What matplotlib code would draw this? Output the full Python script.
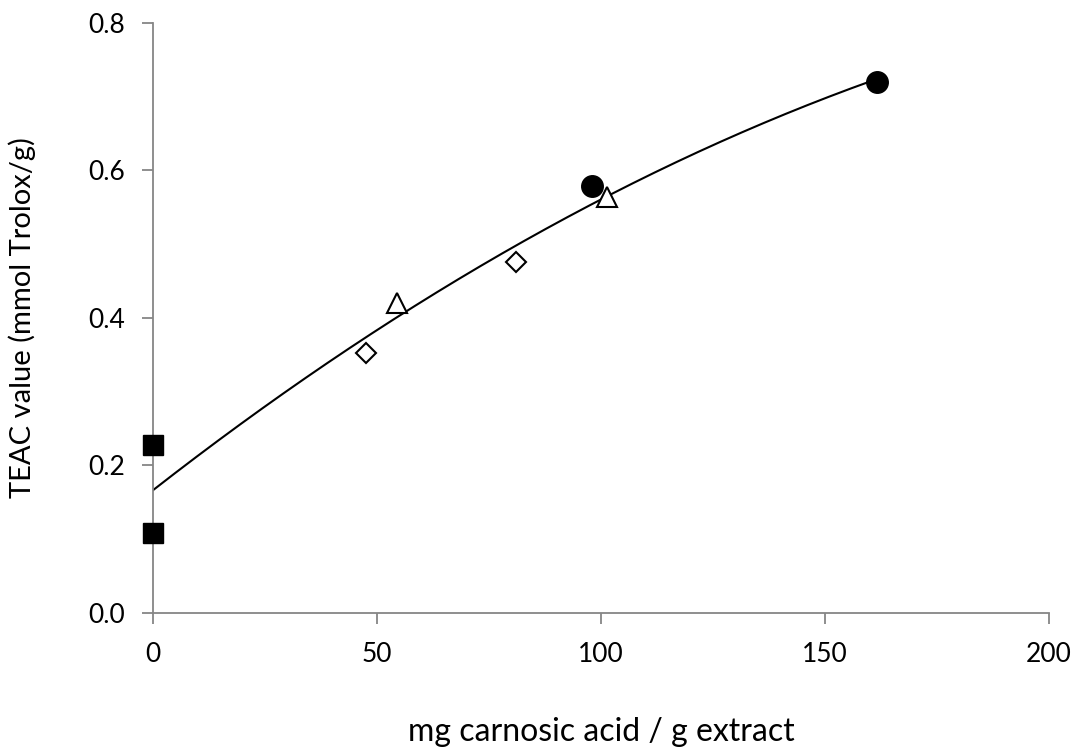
import numpy as np
import matplotlib.pyplot as plt

plt.rcParams['font.family'] = ['Lato', 'DejaVu Sans']

# data
sq_x = [0, 0]
sq_y = [0.228, 0.108]
dia_x = [47.5, 81.0]
dia_y = [0.352, 0.475]
tri_x = [54.4, 101.3]
tri_y = [0.420, 0.564]
cir_x = [97.9, 161.5]
cir_y = [0.578, 0.720]

all_x = np.array(sq_x + dia_x + tri_x + cir_x)
all_y = np.array(sq_y + dia_y + tri_y + cir_y)
coef = np.polyfit(all_x, all_y, 2)  # 2nd order trendline

fig = plt.figure(figsize=(10.78, 7.49), dpi=100)
ax = fig.add_axes([0.1419, 0.182, 0.8312, 0.7877])

xx = np.linspace(0, max(all_x), 200)
ax.plot(xx, np.polyval(coef, xx), color='black', lw=1.5, zorder=2)

ax.plot(sq_x, sq_y, 's', ms=14.5, color='black', clip_on=False, zorder=3)
ax.plot(dia_x, dia_y, 'D', ms=10.5, mfc='white', mec='black', mew=1.5, zorder=3)
ax.plot(tri_x, tri_y, '^', ms=15, mfc='white', mec='black', mew=1.5, zorder=3)
ax.plot(cir_x, cir_y, 'o', ms=15.5, color='black', zorder=3)

ax.set_xlim(0, 200)
ax.set_ylim(0, 0.8)
ax.set_xticks([0, 50, 100, 150, 200])
ax.set_yticks([0, 0.2, 0.4, 0.6, 0.8])
ax.yaxis.set_major_formatter(plt.FormatStrFormatter('%.1f'))

for s in ['top', 'right']:
    ax.spines[s].set_visible(False)
for s in ['left', 'bottom']:
    ax.spines[s].set_color('#868686')
    ax.spines[s].set_linewidth(1.3)
ax.tick_params(length=8, width=1.3, color='#868686', labelsize=19)
ax.tick_params(axis='y', pad=12)
ax.tick_params(axis='x', pad=13)

ax.set_xlabel('mg carnosic acid / g extract', fontsize=23, labelpad=36)
ax.set_ylabel('TEAC value (mmol Trolox/g)', fontsize=21, labelpad=38)

fig.savefig('out.png', dpi=100)
